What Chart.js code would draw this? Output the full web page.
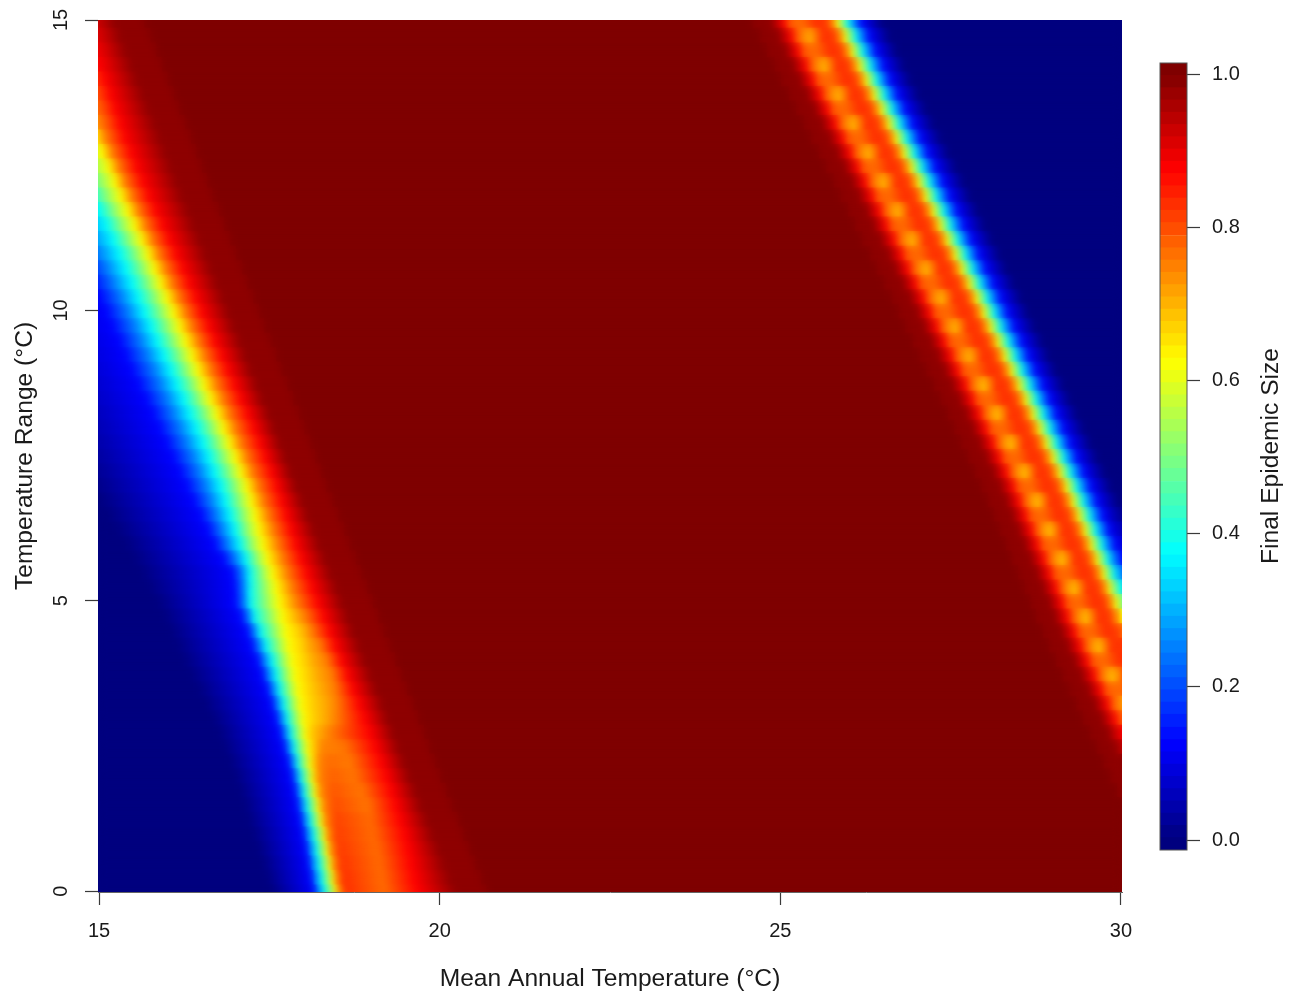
<!DOCTYPE html>
<html>
<head>
<meta charset="utf-8">
<title>Final Epidemic Size</title>
<script src="https://cdn.jsdelivr.net/npm/chart.js@4"></script>
<style>
  html, body { margin: 0; padding: 0; background: #fff; overflow: hidden; }
  #wrap { position: relative; width: 1298px; height: 991px; }
  canvas { position: absolute; top: 0; }
  #heat { left: 0; }
  #bar { left: 1150px; }
</style>
</head>
<body>
<div id="wrap">
  <canvas id="heat" width="1298" height="991"></canvas>
  <canvas id="bar" width="148" height="991"></canvas>
</div>
<script>
/* ================= DATA ================= */
const xTicks = [15, 20, 25, 30];
const yTicks = [0, 5, 10, 15];
const barTicks = [0, 0.2, 0.4, 0.6, 0.8, 1];

// temperature range of each row, bottom to top
const rowY = [
  0, 0.25, 0.5, 0.75, 1, 1.25, 1.5, 1.75, 2, 2.25, 2.5, 2.75, 3, 3.25, 3.5, 3.75,
  4, 4.25, 4.5, 4.75, 5, 5.25, 5.5, 5.75, 6, 6.25, 6.5, 6.75, 7, 7.25, 7.5, 7.75,
  8, 8.25, 8.5, 8.75, 9, 9.25, 9.5, 9.75, 10, 10.25, 10.5, 10.75, 11, 11.25, 11.5, 11.75,
  12, 12.25, 12.5, 12.75, 13, 13.25, 13.5, 13.75, 14, 14.25, 14.5, 14.75, 15
];

// left front: mean temperature at which each row reaches the epidemic size in the name
const leftAt000 = [
  17.54,17.47,17.40,17.33, 17.26,17.19,17.13,17.06, 16.99,16.91,16.83,16.75, 16.66,16.55,16.45,16.34,
  16.23,16.14,16.04,15.95, 15.85,15.73,15.61,15.50, 15.38,15.25,15.12,15.00, 14.87,14.74,14.61,14.48,
  14.35,14.22,14.09,13.97, 13.84,13.71,13.58,13.46, 13.33,13.20,13.07,12.94, 12.81,12.68,12.55,12.43,
  12.30,12.17,12.04,11.92, 11.79,11.66,11.53,11.41, 11.28,11.15,11.02,10.89, 10.76
];
const leftAt125 = [
  18.17,18.13,18.09,18.05, 18.01,17.97,17.92,17.88, 17.83,17.78,17.72,17.66, 17.60,17.54,17.47,17.40,
  17.33,17.24,17.17,17.08, 16.99,16.98,16.95,16.82, 16.69,16.59,16.49,16.38, 16.28,16.18,16.08,15.98,
  15.88,15.78,15.68,15.57, 15.47,15.38,15.29,15.19, 15.10,15.01,14.92,14.84, 14.75,14.65,14.55,14.45,
  14.35,14.25,14.15,14.06, 13.96,13.86,13.76,13.65, 13.55,13.45,13.35,13.24, 13.14
];
const leftAt250 = [
  18.21,18.17,18.13,18.10, 18.06,18.02,17.98,17.94, 17.90,17.85,17.79,17.74, 17.68,17.62,17.56,17.49,
  17.43,17.36,17.29,17.21, 17.14,17.13,17.11,17.01, 16.89,16.81,16.73,16.65, 16.57,16.48,16.39,16.29,
  16.20,16.10,16.01,15.91, 15.82,15.72,15.62,15.53, 15.43,15.33,15.22,15.12, 15.01,14.91,14.81,14.70,
  14.60,14.50,14.40,14.31, 14.21,14.11,14.01,13.91, 13.81,13.71,13.62,13.52, 13.43
];
const leftAt375 = [
  18.31,18.27,18.23,18.19, 18.15,18.10,18.05,18.01, 17.96,17.91,17.86,17.81, 17.76,17.71,17.65,17.60,
  17.54,17.45,17.36,17.27, 17.21,17.21,17.21,17.16, 17.07,17.00,16.93,16.86, 16.79,16.70,16.62,16.53,
  16.44,16.34,16.25,16.15, 16.06,15.96,15.86,15.77, 15.67,15.58,15.49,15.40, 15.31,15.21,15.11,15.01,
  14.91,14.81,14.71,14.60, 14.50,14.40,14.30,14.21, 14.11,14.01,13.91,13.82, 13.72
];
const leftAt500 = [
  18.39,18.35,18.31,18.27, 18.23,18.18,18.14,18.09, 18.05,18.00,17.96,17.91, 17.87,17.82,17.77,17.72,
  17.67,17.61,17.55,17.48, 17.42,17.40,17.37,17.30, 17.21,17.15,17.10,17.04, 16.98,16.90,16.81,16.73,
  16.64,16.55,16.45,16.36, 16.26,16.17,16.07,15.98, 15.89,15.80,15.71,15.62, 15.53,15.42,15.31,15.20,
  15.09,15.00,14.91,14.81, 14.72,14.63,14.53,14.44, 14.35,14.26,14.17,14.08, 13.99
];
const leftAt625 = [
  18.46,18.42,18.38,18.34, 18.30,18.25,18.21,18.16, 18.12,18.09,18.06,18.02, 17.99,17.95,17.91,17.87,
  17.83,17.78,17.74,17.69, 17.64,17.60,17.54,17.47, 17.40,17.34,17.29,17.23, 17.17,17.08,17.00,16.91,
  16.82,16.73,16.63,16.54, 16.45,16.36,16.27,16.18, 16.09,16.00,15.90,15.81, 15.72,15.62,15.52,15.42,
  15.32,15.23,15.14,15.05, 14.96,14.87,14.78,14.69, 14.60,14.51,14.43,14.34, 14.25
];
const leftAt750 = [
  18.53,18.49,18.45,18.41, 18.37,18.33,18.30,18.26, 18.23,18.23,18.27,18.39, 18.48,18.49,18.46,18.42,
  18.34,18.24,18.12,18.02, 17.90,17.83,17.76,17.69, 17.62,17.55,17.48,17.40, 17.33,17.24,17.16,17.07,
  16.99,16.90,16.81,16.72, 16.63,16.54,16.45,16.35, 16.26,16.16,16.06,15.97, 15.87,15.77,15.67,15.57,
  15.47,15.37,15.28,15.18, 15.09,15.02,14.95,14.89, 14.82,14.73,14.64,14.55, 14.46
];
const leftAt875 = [
  19.68,19.63,19.58,19.54, 19.49,19.42,19.36,19.29, 19.22,19.14,19.06,18.98, 18.90,18.82,18.73,18.65,
  18.56,18.47,18.39,18.30, 18.21,18.13,18.05,17.97, 17.89,17.82,17.75,17.68, 17.61,17.53,17.44,17.36,
  17.27,17.18,17.08,16.99, 16.89,16.80,16.70,16.61, 16.51,16.42,16.32,16.23, 16.13,16.03,15.93,15.83,
  15.73,15.64,15.55,15.47, 15.38,15.31,15.24,15.16, 15.09,15.01,14.94,14.86, 14.79
];
const leftAt100 = [
  20.69,20.61,20.52,20.44, 20.35,20.27,20.18,20.10, 20.01,19.93,19.85,19.77, 19.69,19.61,19.52,19.44,
  19.35,19.27,19.18,19.10, 19.02,18.94,18.85,18.77, 18.68,18.60,18.51,18.43, 18.34,18.26,18.18,18.10,
  18.02,17.94,17.85,17.77, 17.68,17.60,17.52,17.43, 17.35,17.27,17.18,17.10, 17.01,16.93,16.84,16.76,
  16.67,16.59,16.51,16.43, 16.35,16.27,16.18,16.10, 16.01,15.93,15.84,15.76, 15.67
];

// orange patch at the foot of the left front, rows 0 to 4.5 only
const patchAX = [18.61,18.58,18.55,18.52, 18.49,18.48,18.46,18.43, 18.42,18.40,18.39,18.12, 18.14,18.12,18.09,18.06, 18.02,17.98,17.92];
const patchAZ = [0.83,0.83,0.825,0.82, 0.815,0.81,0.80,0.79, 0.78,0.77,0.75,0.68, 0.67,0.67,0.67,0.67, 0.67,0.67,0.67];
const patchBX = [19.19,19.16,19.12,19.08, 19.03,18.99,18.94,18.86, 18.75,18.68,18.61,18.27, 18.33,18.33,18.27,18.21, 18.15,18.08,18.01];
const patchBZ = [0.77,0.77,0.77,0.77, 0.77,0.77,0.76,0.76, 0.76,0.755,0.76,0.72, 0.71,0.71,0.71,0.71, 0.71,0.71,0.70];

// right front: where each row passes 0.625 (the yellow line), and the ridge value of the row
const rightAt625 = [
  31.88,31.78,31.68,31.58, 31.48,31.38,31.29,31.19, 31.09,30.99,30.89,30.79, 30.69,30.59,30.49,30.39,
  30.29,30.19,30.10,30.00, 29.92,29.83,29.74,29.65, 29.56,29.47,29.38,29.29, 29.20,29.10,29.00,28.90,
  28.80,28.70,28.60,28.50, 28.39,28.29,28.19,28.08, 27.98,27.88,27.77,27.66, 27.56,27.45,27.34,27.24,
  27.13,27.03,26.92,26.81, 26.70,26.59,26.48,26.37, 26.26,26.16,26.05,25.95, 25.84
];
const ridgeZ = [
  0.77,0.68,0.77,0.68, 0.77,0.68,0.77,0.68, 0.77,0.68,0.77,0.68, 0.77,0.68,0.77,0.68,
  0.77,0.68,0.77,0.68, 0.77,0.68,0.77,0.68, 0.77,0.68,0.77,0.68, 0.77,0.68,0.77,0.68,
  0.77,0.68,0.77,0.68, 0.77,0.69,0.77,0.69, 0.77,0.69,0.77,0.69, 0.77,0.69,0.77,0.69,
  0.77,0.69,0.77,0.69, 0.77,0.69,0.77,0.69, 0.77,0.69,0.77,0.70, 0.77
];
// shape of the right front across a row: offset from the yellow line, and size there
const rightOffset = [-1.25, -1.24, -0.98, -0.78, -0.70, -0.51, -0.33, -0.16, -0.06, 0, 0.08, 0.15, 0.25, 0.35, 0.66];
const rightSize = [1, 0.985, 0.985, 0.875, 0.78, null, 0.83, 0.82, 0.74, 0.625, 0.5, 0.375, 0.25, 0.125, 0];

// colour key levels, bottom to top
const keyLevels = [
  -0.005,0.011,0.027,0.043,0.059,0.075,0.091,0.107,0.123,0.139,0.156,0.172,0.188,0.204,0.220,0.236,
  0.252,0.268,0.284,0.300,0.316,0.332,0.348,0.364,0.380,0.396,0.412,0.428,0.444,0.460,0.477,0.493,
  0.509,0.525,0.541,0.557,0.573,0.589,0.605,0.621,0.637,0.653,0.669,0.685,0.701,0.717,0.733,0.749,
  0.765,0.781,0.798,0.814,0.830,0.846,0.862,0.878,0.894,0.910,0.926,0.942,0.958,0.974,0.990,1.006
];
const jetColors = [[0,0,127],[0,0,255],[0,127,255],[0,255,255],[127,255,127],[255,255,0],[255,127,0],[255,0,0],[127,0,0]];

/* ================= COLOUR ================= */
function jet(z) {
  const t = Math.min(Math.max(z, 0), 1) * (jetColors.length - 1);
  const i = Math.min(Math.floor(t), jetColors.length - 2);
  const f = t - i;
  const c = jetColors[i].map((v, k) => Math.round(v + (jetColors[i + 1][k] - v) * f));
  return `rgb(${c[0]},${c[1]},${c[2]})`;
}

// one row of the map: a gradient laid out with the chart's own x scale
const GRAD_LO = 5, GRAD_HI = 40;

function rowStops(i) {
  const stops = [
    [leftAt000[i], 0], [leftAt125[i], 0.125], [leftAt250[i], 0.25], [leftAt375[i], 0.375],
    [leftAt500[i], 0.5], [leftAt625[i], 0.625], [leftAt750[i], 0.75], [leftAt875[i], 0.875],
    [leftAt100[i] - 0.44, 0.985], [leftAt100[i] - 0.01, 0.985], [leftAt100[i], 1]
  ];
  if (i < patchAX.length) {
    stops.push([patchAX[i], patchAZ[i]], [patchBX[i], patchBZ[i]]);
  }
  rightOffset.forEach((off, k) => {
    stops.push([rightAt625[i] + off, rightSize[k] === null ? ridgeZ[i] : rightSize[k]]);
  });
  return stops;
}

function rowGradient(ctx) {
  const chart = ctx.chart;
  const xs = chart.scales.x;
  if (!chart.chartArea || !xs || ctx.dataIndex === undefined) return "#7F0000";
  const grad = chart.ctx.createLinearGradient(xs.getPixelForValue(GRAD_LO), 0, xs.getPixelForValue(GRAD_HI), 0);
  rowStops(ctx.dataIndex).forEach(([x, z]) => {
    grad.addColorStop((x - GRAD_LO) / (GRAD_HI - GRAD_LO), jet(z));
  });
  return grad;
}

// second pass of the rows, softened, so the row steps melt together like the original raster
const softenRows = {
  id: "softenRows",
  afterDatasetsDraw(chart) {
    const { ctx, chartArea: a } = chart;
    ctx.save();
    ctx.beginPath();
    ctx.rect(a.left, a.top, a.right - a.left, a.bottom - a.top);
    ctx.clip();
    ctx.filter = "blur(4px)";
    chart.getDatasetMeta(0).controller.draw();
    ctx.restore();
  }
};

/* ================= MAP ================= */
const FONT = "'Liberation Sans', Arial, sans-serif";
const X_MIN = 14.985, X_MAX = 30.015;
const INK = "#3a3a3a";

new Chart(document.getElementById("heat"), {
  type: "bar",
  data: {
    datasets: [{
      data: rowY.map(y => ({ x: [X_MIN, X_MAX], y })),
      backgroundColor: rowGradient,
      borderWidth: 0,
      inflateAmount: 0.6,
      categoryPercentage: 1,
      barPercentage: 1
    }]
  },
  options: {
    indexAxis: "y",
    responsive: false,
    animation: false,
    events: [],
    layout: { autoPadding: false, padding: { top: 20, right: 176 } },
    plugins: { legend: { display: false }, tooltip: { enabled: false } },
    scales: {
      x: {
        type: "linear",
        min: X_MIN,
        max: X_MAX,
        afterBuildTicks: s => { s.ticks = xTicks.map(value => ({ value })); },
        afterFit: s => { s.height = 99; s.paddingLeft = 0; s.paddingRight = 0; },
        grid: { drawOnChartArea: false, tickLength: 13, tickColor: INK, tickWidth: 1.2 },
        border: { color: "#666", width: 1 },
        ticks: { color: "#1a1a1a", font: { family: FONT, size: 20 }, padding: 14, maxRotation: 0, autoSkip: false },
        title: {
          display: true,
          text: "Mean Annual Temperature (°C)",
          color: "#1a1a1a",
          font: { family: FONT, size: 24.6 },
          padding: { top: 0, bottom: -3 }
        }
      },
      y: {
        type: "linear",
        offset: false,
        min: -0.015,
        max: 15,
        afterBuildTicks: s => { s.ticks = yTicks.map(value => ({ value })); },
        afterFit: s => { s.width = 98; s.paddingTop = 0; s.paddingBottom = 0; },
        grid: { offset: false, drawOnChartArea: false, tickLength: 13, tickColor: INK, tickWidth: 1.2 },
        border: { color: "#666", width: 1 },
        ticks: {
          color: "#1a1a1a",
          font: { family: FONT, size: 20 },
          padding: 12,
          minRotation: 90,
          maxRotation: 90,
          crossAlign: "center",
          autoSkip: false
        },
        title: {
          display: true,
          text: "Temperature Range (°C)",
          color: "#1a1a1a",
          font: { family: FONT, size: 24.6 },
          padding: { top: 10, bottom: 0 }
        }
      }
    }
  },
  plugins: [softenRows]
});

/* ================= COLOUR KEY ================= */
const keyFrame = {
  id: "keyFrame",
  afterDatasetsDraw(chart) {
    const { ctx, chartArea: a } = chart;
    ctx.save();
    ctx.strokeStyle = "#555";
    ctx.lineWidth = 1;
    ctx.strokeRect(a.left, a.top, a.right - a.left, a.bottom - a.top);
    ctx.fillStyle = "#1a1a1a";
    ctx.font = `24.6px ${FONT}`;
    ctx.textAlign = "center";
    ctx.textBaseline = "middle";
    ctx.translate(121, 456);
    ctx.rotate(-Math.PI / 2);
    ctx.fillText("Final Epidemic Size", 0, 0);
    ctx.restore();
  }
};

new Chart(document.getElementById("bar"), {
  type: "bar",
  data: {
    labels: ["key"],
    datasets: keyLevels.map(z => ({
      data: [[z - 0.0081, z + 0.0081]],
      backgroundColor: jet(z),
      borderWidth: 0,
      inflateAmount: 0.4,
      grouped: false,
      categoryPercentage: 1,
      barPercentage: 1
    }))
  },
  options: {
    responsive: false,
    animation: false,
    events: [],
    layout: { autoPadding: false, padding: { top: 63, left: 10, bottom: 141, right: 0 } },
    plugins: { legend: { display: false }, tooltip: { enabled: false } },
    scales: {
      x: { display: false },
      y: {
        position: "right",
        min: -0.013,
        max: 1.0144,
        afterBuildTicks: s => { s.ticks = barTicks.map(value => ({ value })); },
        afterFit: s => { s.width = 111; },
        grid: { drawOnChartArea: false, tickLength: 13, tickColor: INK, tickWidth: 1.2 },
        border: { display: false },
        ticks: {
          color: "#1a1a1a",
          font: { family: FONT, size: 20 },
          padding: 12,
          callback: v => v.toFixed(1)
        }
      }
    }
  },
  plugins: [keyFrame]
});
</script>
</body>
</html>
